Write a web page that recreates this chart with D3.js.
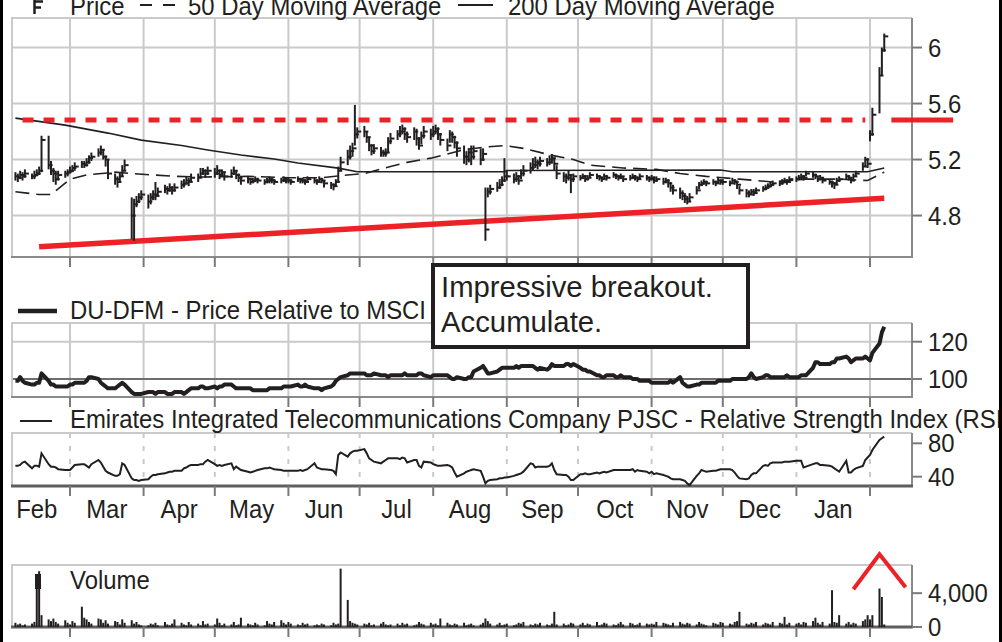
<!DOCTYPE html>
<html>
<head>
<meta charset="utf-8">
<script src="https://cdn.jsdelivr.net/npm/d3@7"></script>
<style>
body { margin: 0; background: #fff; overflow: hidden; }
svg { display: block; font-family: "Liberation Sans", Arial, sans-serif; }
</style>
</head>
<body>
<div id="chart"></div>
<script>
// ---- data (one value per trading day, Feb 6 2023 .. Feb 7 2024) ----
var first_day = '2023-02-06';
var last_day = '2024-02-07';

var price_close = [
	5.08,5.07,5.09,5.08,5.10, 5.08,5.09,5.10,5.12,5.34, 5.16,5.12,5.10,5.06,5.09, 5.10,5.11,            // Feb
	5.12,5.14,5.15, 5.17,5.16,5.18,5.21,5.22, 5.25,5.27,5.22,5.20,5.10, 5.06,5.04,5.08,5.12,5.16, 4.80,4.88,4.90,4.93,4.95, // Mar
	4.90,4.93,4.95,4.94,4.97, 4.99,4.98,5.00,4.98,5.00, 5.02,5.03,5.05,5.04,5.07, 5.07,5.10,5.12,5.10,5.12, // Apr
	5.10,5.12,5.09,5.11,5.08, 5.10,5.12,5.09,5.07,5.05, 5.06,5.04,5.05,5.06,5.05, 5.04,5.05,5.06,5.05,5.04, 5.05,5.06,5.05, // May
	5.05,5.04, 5.06,5.05,5.05,5.04,5.06, 5.05,5.04,5.06,5.05,5.03, 5.02,5.01,5.04,5.12,5.18, 5.22,5.26,5.28,5.38,5.40, // Jun
	5.40,5.36,5.30,5.26,5.28, 5.25,5.24,5.25,5.33,5.35, 5.38,5.40,5.42,5.38,5.36, 5.40,5.35,5.30,5.37,5.40, 5.38, // Jul
	5.40,5.42,5.38,5.34, 5.30,5.38,5.36,5.32,5.28, 5.22,5.20,5.25,5.22,5.26, 5.20,5.24,4.70,4.97,4.99, 5.00,5.02,5.05,5.08, // Aug
	5.08, 5.06,5.08,5.05,5.10,5.12, 5.14,5.16,5.18,5.17,5.19, 5.18,5.20,5.21,5.17,5.10, 5.08,5.07,5.09,5.06,5.08, // Sep
	5.07,5.08,5.06,5.07,5.09, 5.08,5.07,5.06,5.08,5.07, 5.09,5.08,5.07,5.08,5.06, 5.07,5.08,5.07,5.06,5.08, 5.07,5.06, // Oct
	5.07,5.05,5.06, 5.04,5.05,5.03,5.00,4.98, 4.96,4.94,4.92,4.90,4.93, 4.98,5.02,5.03,5.04,5.03, 5.04,5.03,5.05,5.04, // Nov
	5.04, 5.03,5.05,5.04,5.02,4.98, 4.96,4.95,4.97,4.96,4.98, 4.99,5.00,5.01,5.02,5.03, 5.03,5.04,5.05,5.04,5.06, // Dec
	5.06,5.07,5.08,5.07,5.10, 5.09,5.08,5.06,5.07,5.05, 5.04,5.03,5.02,5.05,5.06, 5.08,5.07,5.05,5.08,5.10, 5.15,5.20,5.17, // Jan
	5.38,5.52,5.80,5.98,6.08                                                                           // Feb
];
var price_high = [
	5.11,5.10,5.12,5.11,5.13, 5.10,5.12,5.13,5.15,5.37, 5.37,5.19,5.14,5.12,5.12, 5.12,5.13,
	5.15,5.16,5.18, 5.19,5.19,5.21,5.23,5.25, 5.28,5.30,5.27,5.23,5.20, 5.10,5.08,5.11,5.16,5.20, 4.93,4.92,4.94,4.96,4.98,
	4.95,4.96,4.98,5.04,5.00, 5.02,5.01,5.03,5.01,5.03, 5.05,5.06,5.08,5.07,5.10, 5.10,5.14,5.14,5.13,5.15,
	5.14,5.16,5.13,5.13,5.11, 5.13,5.15,5.12,5.10,5.08, 5.08,5.07,5.07,5.08,5.07, 5.06,5.07,5.08,5.07,5.06, 5.07,5.08,5.07,
	5.07,5.06, 5.08,5.07,5.07,5.06,5.08, 5.07,5.06,5.08,5.07,5.05, 5.04,5.03,5.06,5.15,5.22, 5.27,5.30,5.32,5.59,5.43,
	5.44,5.40,5.36,5.31,5.31, 5.29,5.27,5.28,5.36,5.39, 5.41,5.44,5.45,5.43,5.40, 5.43,5.42,5.36,5.40,5.44, 5.42,
	5.44,5.45,5.43,5.39, 5.35,5.41,5.40,5.37,5.33, 5.30,5.26,5.28,5.30,5.30, 5.28,5.28,5.00,5.00,5.02, 5.04,5.06,5.08,5.21,
	5.12, 5.10,5.11,5.09,5.13,5.16, 5.18,5.21,5.22,5.20,5.22, 5.21,5.23,5.24,5.21,5.16, 5.11,5.10,5.12,5.09,5.10,
	5.09,5.10,5.09,5.09,5.11, 5.10,5.09,5.08,5.10,5.09, 5.11,5.10,5.09,5.10,5.08, 5.09,5.10,5.09,5.08,5.10, 5.09,5.08,
	5.09,5.08,5.08, 5.07,5.07,5.06,5.04,5.02, 5.00,4.98,4.96,4.94,4.96, 5.01,5.04,5.05,5.06,5.05, 5.06,5.05,5.07,5.06,
	5.06, 5.05,5.07,5.06,5.05,5.01, 4.99,4.98,4.99,4.99,5.00, 5.01,5.02,5.03,5.04,5.05, 5.05,5.06,5.07,5.06,5.08,
	5.08,5.09,5.10,5.09,5.12, 5.11,5.10,5.08,5.09,5.07, 5.06,5.05,5.04,5.07,5.08, 5.10,5.09,5.07,5.10,5.12, 5.18,5.22,5.21,
	5.41,5.57,5.86,6.00,6.10
];
var price_low = [
	5.05,5.04,5.06,5.05,5.07, 5.06,5.06,5.08,5.09,5.11, 5.13,5.09,5.04,5.02,5.05, 5.07,5.08,
	5.10,5.11,5.12, 5.14,5.14,5.15,5.17,5.19, 5.22,5.23,5.20,5.15,5.06, 5.02,5.00,5.04,5.08,5.12, 4.63,4.62,4.86,4.89,4.91,
	4.85,4.88,4.91,4.91,4.94, 4.96,4.95,4.97,4.95,4.97, 4.99,5.00,5.02,5.01,5.04, 5.04,5.07,5.09,5.07,5.09,
	5.07,5.09,5.06,5.08,5.05, 5.07,5.09,5.06,5.04,5.02, 5.03,5.02,5.03,5.04,5.03, 5.02,5.03,5.03,5.03,5.02, 5.03,5.04,5.03,
	5.03,5.02, 5.04,5.03,5.03,5.02,5.04, 5.03,5.02,5.04,5.03,5.00, 4.99,4.98,5.01,5.04,5.12, 5.16,5.20,5.22,5.30,5.35,
	5.36,5.32,5.26,5.23,5.24, 5.22,5.22,5.22,5.25,5.31, 5.34,5.36,5.38,5.34,5.32, 5.34,5.30,5.27,5.31,5.35, 5.34,
	5.36,5.38,5.34,5.30, 5.26,5.32,5.32,5.28,5.22, 5.17,5.16,5.18,5.16,5.20, 5.16,5.19,4.62,4.93,4.95, 4.97,4.99,5.01,5.04,
	5.05, 5.03,5.04,5.02,5.06,5.08, 5.10,5.12,5.14,5.13,5.15, 5.15,5.16,5.17,5.12,5.06, 5.04,5.03,5.05,4.96,5.04,
	5.05,5.06,5.04,5.05,5.07, 5.06,5.05,5.04,5.06,5.05, 5.07,5.06,5.05,5.06,5.04, 5.05,5.06,5.05,5.04,5.06, 5.05,5.04,
	5.05,5.03,5.04, 5.02,5.03,5.00,4.97,4.95, 4.92,4.91,4.89,4.88,4.90, 4.95,4.99,5.01,5.02,5.01, 5.02,5.01,5.03,5.02,
	5.02, 5.01,5.03,5.02,4.99,4.95, 4.93,4.93,4.95,4.94,4.96, 4.97,4.98,4.99,5.00,5.01, 5.01,5.02,5.03,5.02,5.04,
	5.04,5.05,5.06,5.05,5.08, 5.07,5.06,5.04,5.05,5.03, 5.02,5.00,4.99,5.02,5.04, 5.06,5.05,5.03,5.06,5.08, 5.12,5.15,5.14,
	5.33,5.37,5.53,5.80,5.97
];

// DU-DFM price relative to MSCI
var relative = [
	99,99,101,99,98, 97,97,98,98,103, 99,97,97,96,96, 96,96,
	97,97,98, 98,98,99,101,101, 100,98,97,96,95, 95,96,97,98,97, 93,92,92,92,92,
	93,93,93,92,93, 93,92,92,92,93, 93,92,93,94,95, 95,96,96,95,95,
	96,95,96,96,97, 97,96,95,95,95, 95,95,94,94,94, 94,94,95,95,95, 95,96,96,
	96,96, 97,96,96,97,96, 95,95,95,94,95, 96,97,99,100,101, 102,103,103,103,103,
	103,102,102,102,103, 102,102,102,101,102, 102,102,102,103,102, 102,102,103,103,102, 101,
	102,102,102,102, 102,101,100,100,101, 100,100,101,101,104, 106,107,105,103,103, 104,105,106,106,
	106, 106,107,106,107,107, 107,107,106,105,106, 105,106,108,107,107, 107,108,108,107,108,
	106,105,105,104,104, 102,102,101,101,102, 102,101,101,102,101, 101,100,100,100,99, 99,99,
	98,98,98, 98,98,98,99,98, 101,98,97,96,96, 97,97,98,98,98, 98,98,99,99,
	99, 99,100,100,100,100, 100,101,103,101,100, 101,102,102,101,101, 101,101,101,102,101,
	101,101,102,102,102, 106,109,109,108,108, 108,109,109,111,111, 112,111,109,110,111, 111,112,111,
	110,114,119,125,128
];

// Relative Strength Index
var rsi = [
	53,53,54,57,58, 50,53,53,52,68, 55,52,52,51,49, 48,48,
	48,51,54, 55,55,53,51,55, 60,57,52,47,45, 41,41,43,56,54, 38,36,36,35,36,
	37,40,42,42,43, 44,45,46,46,47, 47,50,51,53,54, 54,55,55,58,60,
	55,53,54,53,54, 56,49,52,50,48, 46,45,46,47,48, 50,50,51,50,49, 48,47,47,
	47,47, 47,48,47,48,49, 56,51,50,49,49, 48,47,43,66,69, 64,68,70,71,71,
	73,68,62,60,58, 56,58,60,62,62, 62,61,63,62,57, 60,60,53,51,58, 57,
	55,54,53,53, 54,53,51,45,40, 44,46,47,48,49, 47,40,32,35,36, 37,38,38,39,
	39, 41,42,43,44,46, 56,55,51,52,52, 52,53,56,48,43, 42,42,40,36,36,
	43,43,44,43,43, 45,44,45,46,45, 48,48,48,48,48, 48,49,46,48,47, 46,44,
	46,43,44, 42,41,40,38,37, 37,36,35,32,30, 41,44,48,47,46, 47,47,48,49,
	49, 49,48,45,41,38, 37,38,42,44,44, 53,54,53,56,57, 57,57,58,58,58,
	59,59,59,51,52, 55,56,56,54,54, 53,52,50,48,46, 59,45,45,48,50, 53,60,63,
	66,72,84,86,88
];

var volume = [
	500,300,400,200,300, 400,600,6200,6600,1400, 900,700,1000,600,400, 800,500,
	300,700,500, 2400,1100,900,600,400, 1000,900,500,800,400, 700,600,300,900,500, 800,400,600,300,200,
	200,400,300,500,200, 600,300,200,400,900, 500,300,200,600,300, 400,200,700,300,400,
	300,1000,500,200,400, 300,600,200,300,1100, 400,300,200,500,300, 200,700,400,300,600, 800,500,300,
	600,400, 300,200,500,300,400, 200,300,200,400,300, 200,500,300,400,6900, 3200,700,500,400,300,
	400,300,500,200,300, 400,600,300,200,300, 400,200,500,300,400, 200,300,600,400,300, 500,
	300,400,200,1000, 500,300,200,400,300, 500,200,300,400,200, 300,500,1000,700,400, 300,500,200,300,
	400, 200,300,500,400,600, 300,200,400,300,500, 300,200,400,1800,300, 400,200,300,500,400,
	300,500,200,400,300, 600,200,300,500,400, 300,200,400,600,300, 500,400,200,300,500, 400,300,
	400,300,600, 500,400,300,200,500, 600,400,300,500,400, 300,600,400,300,200, 500,400,300,600,
	500, 400,300,600,700,1800, 400,300,500,400,600, 300,500,400,300,600, 500,400,1200,300,500,
	400,500,300,600,500, 700,1100,500,300,600, 400,4350,600,500,1400, 400,600,300,500,400, 700,900,1400,
	900,1400,4550,3550,300
];

// moving averages (read at turning points)
var ma50_dates = ['2023-02-06','2023-02-16','2023-02-21','2023-02-24','2023-03-01','2023-03-08','2023-03-20','2023-03-27',
	'2023-04-05','2023-04-14','2023-04-26','2023-05-15','2023-06-01','2023-06-15','2023-06-23','2023-07-03','2023-07-14',
	'2023-07-21','2023-07-31','2023-08-07','2023-08-14','2023-08-23','2023-08-31','2023-09-08','2023-09-20','2023-09-29',
	'2023-10-06','2023-10-20','2023-11-03','2023-11-13','2023-11-24','2023-12-08','2023-12-22','2024-01-05','2024-01-19',
	'2024-01-31','2024-02-07'];
var ma50_values = [4.97,4.95,4.95,4.99,5.06,5.09,5.11,5.10, 5.09,5.08,5.075,5.08,5.07,5.07,5.085,5.10,5.15,
	5.18,5.21,5.24,5.27,5.29,5.30,5.28,5.23,5.20, 5.16,5.14,5.13,5.10,5.08,5.06,5.04,5.06,5.06, 5.05,5.11];

var ma200_dates = ['2023-02-06','2023-02-27','2023-03-17','2023-03-31','2023-04-17','2023-04-28','2023-05-12','2023-05-26',
	'2023-06-05','2023-06-22','2023-06-30','2023-08-31','2023-09-01','2023-11-30','2023-12-05','2024-01-31','2024-02-07'];
var ma200_values = [5.496,5.446,5.389,5.339,5.30,5.268,5.232,5.204, 5.175,5.139,5.113,5.113,5.122,5.125,5.113,5.113,5.14];

// drawn annotations
var support_dates = ['2023-02-16','2024-02-07'];
var support_values = [4.577, 4.923];
var resistance_value = 5.482;
var resistance_dashed = ['2023-02-09','2024-01-30'];
var resistance_solid = ['2024-02-10','2024-03-07'];
var chevron_dates = ['2024-01-25','2024-02-05','2024-02-16'];
var chevron_values = [4470, 8590, 4700];

var month_labels = ['Feb','Mar','Apr','May','Jun','Jul','Aug','Sep','Oct','Nov','Dec','Jan'];
var price_ticks = [4.8, 5.2, 5.6, 6];
var relative_ticks = [100, 120];
var rsi_ticks = [40, 80];
var volume_ticks = [0, 4000];

// ---- setup ----
var parse = d3.timeParse('%Y-%m-%d');
var days = d3.timeDay.range(parse(first_day), d3.timeDay.offset(parse(last_day), 1))
	.filter(function(d){ return d.getDay() !== 0 && d.getDay() !== 6; });

var n = Math.min(days.length, price_close.length, price_high.length, price_low.length,
	relative.length, rsi.length, volume.length);
var data = [];
for (var i = 0; i < n; i++) {
	data.push({ date: days[i], close: price_close[i], high: price_high[i], low: price_low[i],
		rel: relative[i], rsi: rsi[i], vol: volume[i] });
}

var width = 1002, height = 642;
var left = 12, right = 912;
var ink = '#231f20', grid = '#cacaca', edge = '#8a8a8a', red = '#ec2227';

var svg = d3.select('#chart').append('svg')
	.attr('width', width)
	.attr('height', height);

var x_scale = d3.scaleTime()
	.domain([parse('2023-03-01'), parse('2024-02-01')])
	.range([70, 870]);

var months = d3.timeMonth.range(parse('2023-03-01'), parse('2024-02-02'));

var y_price = d3.scaleLinear().domain([4.504, 6.211]).range([257, 18]);
var y_rel = d3.scaleLinear().domain([90.35, 130.03]).range([397, 323]);
var y_rsi = d3.scaleLinear().domain([28.86, 92.34]).range([486, 433]);
var y_vol = d3.scaleLinear().domain([0, 7330]).range([627, 565]);

function label(x, y, str, size, anchor) {
	return svg.append('text')
		.attr('transform', 'translate(' + x + ',' + y + ') scale(0.92,1)')
		.attr('font-size', size || 26)
		.attr('text-anchor', anchor || 'start')
		.attr('fill', ink)
		.text(str);
}

// panel: frame, month grid, bottom ticks, right axis
function panel(y_scale, ticks, fmt, opts) {
	var top = y_scale.range()[1], bottom = y_scale.range()[0];
	var g = svg.append('g');
	if (opts.vgrid) {
		g.selectAll('.vg').data(months).enter().append('line')
			.attr('x1', function(d){ return x_scale(d); })
			.attr('x2', function(d){ return x_scale(d); })
			.attr('y1', top).attr('y2', bottom)
			.attr('stroke', grid).attr('stroke-width', 2)
			.attr('stroke-dasharray', opts.vgrid === 'dash' ? '5,8' : null);
	}
	if (opts.hgrid) {
		g.selectAll('.hg').data(ticks).enter().append('line')
			.attr('x1', left).attr('x2', right)
			.attr('y1', function(d){ return y_scale(d); })
			.attr('y2', function(d){ return y_scale(d); })
			.attr('stroke', function(d){ return d === opts.base ? '#6e6e6e' : grid; })
			.attr('stroke-width', 2);
	}
	g.append('path')
		.attr('d', 'M' + right + ',' + top + 'H' + left + 'V' + bottom)
		.attr('fill', 'none').attr('stroke', grid).attr('stroke-width', 2);
	g.append('line').attr('x1', right).attr('x2', right).attr('y1', top).attr('y2', bottom + 1)
		.attr('stroke', edge).attr('stroke-width', 2);
	g.append('line').attr('x1', left - 1).attr('x2', right + 1).attr('y1', bottom).attr('y2', bottom)
		.attr('stroke', opts.heavy ? '#5e5e5e' : edge).attr('stroke-width', opts.heavy ? 3 : 2);

	// month ticks under the panel
	g.selectAll('.mt').data(months).enter().append('line')
		.attr('x1', function(d){ return x_scale(d); })
		.attr('x2', function(d){ return x_scale(d); })
		.attr('y1', bottom).attr('y2', bottom + 10)
		.attr('stroke', '#7a7a7a').attr('stroke-width', 2);

	// right axis ticks and labels
	g.selectAll('.rt').data(ticks).enter().append('line')
		.attr('x1', right).attr('x2', right + 10)
		.attr('y1', function(d){ return y_scale(d); })
		.attr('y2', function(d){ return y_scale(d); })
		.attr('stroke', '#7a7a7a').attr('stroke-width', 2);
	ticks.forEach(function(t){
		label(928, y_scale(t), fmt(t)).attr('dy', '0.35em');
	});
	return g;
}

// ---- price panel ----
panel(y_price, price_ticks, d3.format('~g'), { vgrid: 'solid', hgrid: true });

var line_price = function(dates, values) {
	return d3.line()
		.x(function(d){ return x_scale(parse(d)); })
		.y(function(d, i){ return y_price(values[i]); })(dates);
};

svg.append('path')
	.attr('d', line_price(ma200_dates, ma200_values))
	.attr('fill', 'none').attr('stroke', ink).attr('stroke-width', 1.6);
svg.append('path')
	.attr('d', line_price(ma50_dates, ma50_values))
	.attr('fill', 'none').attr('stroke', ink).attr('stroke-width', 1.6)
	.attr('stroke-dasharray', '14,7');

// support line
svg.append('path')
	.attr('d', line_price(support_dates, support_values))
	.attr('stroke', red).attr('stroke-width', 5.5);

// resistance line
svg.append('path')
	.attr('d', line_price(resistance_dashed, [resistance_value, resistance_value]))
	.attr('stroke', red).attr('stroke-width', 5).attr('stroke-dasharray', '11,10');
svg.append('path')
	.attr('d', line_price(resistance_solid, [resistance_value, resistance_value]))
	.attr('stroke', red).attr('stroke-width', 5);

// price bars (high-low-close)
var bars = svg.append('g').attr('stroke', ink).attr('stroke-width', 2);
bars.selectAll('.hl').data(data).enter().append('line')
	.attr('x1', function(d){ return x_scale(d.date); })
	.attr('x2', function(d){ return x_scale(d.date); })
	.attr('y1', function(d){ return y_price(d.high); })
	.attr('y2', function(d){ return y_price(d.low); });
bars.selectAll('.cl').data(data).enter().append('line')
	.attr('x1', function(d){ return x_scale(d.date); })
	.attr('x2', function(d){ return x_scale(d.date) + 4; })
	.attr('y1', function(d){ return y_price(d.close); })
	.attr('y2', function(d){ return y_price(d.close); });

// ---- relative panel ----
panel(y_rel, relative_ticks, d3.format('d'), { vgrid: 'solid', hgrid: true, base: 100 });
svg.append('path')
	.datum(data)
	.attr('d', d3.line()
		.x(function(d){ return x_scale(d.date); })
		.y(function(d){ return y_rel(d.rel); }))
	.attr('fill', 'none').attr('stroke', ink).attr('stroke-width', 4)
	.attr('stroke-linejoin', 'round');

// ---- RSI panel ----
panel(y_rsi, rsi_ticks, d3.format('d'), { vgrid: 'dash', heavy: true });
svg.append('path')
	.datum(data)
	.attr('d', d3.line()
		.x(function(d){ return x_scale(d.date); })
		.y(function(d){ return y_rsi(d.rsi); }))
	.attr('fill', 'none').attr('stroke', ink).attr('stroke-width', 2);

// ---- volume panel ----
panel(y_vol, volume_ticks, d3.format(','), { heavy: true });
svg.append('g').selectAll('rect').data(data).enter().append('rect')
	.attr('x', function(d){ return x_scale(d.date) - 1; })
	.attr('width', 2)
	.attr('y', function(d){ return y_vol(d.vol); })
	.attr('height', function(d){ return y_vol(0) - y_vol(d.vol); })
	.attr('fill', ink);

svg.append('path')
	.attr('d', d3.line()
		.x(function(d){ return x_scale(parse(d)); })
		.y(function(d, i){ return y_vol(chevron_values[i]); })(chevron_dates))
	.attr('fill', 'none').attr('stroke', red).attr('stroke-width', 4);

// ---- month labels ----
month_labels.forEach(function(m, i){
	var a = d3.timeMonth.offset(parse('2023-02-01'), i);
	var b = d3.timeMonth.offset(a, 1);
	label((x_scale(a) + x_scale(b)) / 2, 518, m, 26, 'middle');
});

// ---- legends ----
svg.append('path')
	.attr('d', 'M34.5,0V14M34.5,1.5H43M34.5,7.5H41')
	.attr('fill', 'none').attr('stroke', ink).attr('stroke-width', 2.5);
label(70, 15, 'Price');
svg.append('line').attr('x1', 140).attr('x2', 175).attr('y1', 5).attr('y2', 5)
	.attr('stroke', ink).attr('stroke-width', 2).attr('stroke-dasharray', '12,11');
label(188, 15, '50 Day Moving Average');
svg.append('line').attr('x1', 458).attr('x2', 493).attr('y1', 5).attr('y2', 5)
	.attr('stroke', ink).attr('stroke-width', 2);
label(508, 15, '200 Day Moving Average');

svg.append('line').attr('x1', 18).attr('x2', 57).attr('y1', 311).attr('y2', 311)
	.attr('stroke', ink).attr('stroke-width', 4.5);
label(70, 319, 'DU-DFM - Price Relative to MSCI');

svg.append('line').attr('x1', 20).attr('x2', 52).attr('y1', 421).attr('y2', 421)
	.attr('stroke', ink).attr('stroke-width', 2);
label(70, 428, 'Emirates Integrated Telecommunications Company PJSC - Relative Strength Index (RSI)');

svg.append('rect').attr('x', 35).attr('y', 574).attr('width', 6).attr('height', 15).attr('fill', ink);
label(70, 589, 'Volume');

// ---- note box ----
svg.append('rect')
	.attr('x', 433).attr('y', 265).attr('width', 315).attr('height', 82)
	.attr('fill', '#fff').attr('stroke', ink).attr('stroke-width', 4);
svg.append('text').attr('x', 441).attr('y', 297).attr('font-size', 29.3).attr('fill', ink)
	.text('Impressive breakout.');
svg.append('text').attr('x', 441).attr('y', 332).attr('font-size', 29.3).attr('fill', ink)
	.text('Accumulate.');

// ---- outer border ----
svg.append('line').attr('x1', 1.5).attr('x2', 1.5).attr('y1', 0).attr('y2', height)
	.attr('stroke', '#000').attr('stroke-width', 3);
svg.append('line').attr('x1', 1000.5).attr('x2', 1000.5).attr('y1', 0).attr('y2', height)
	.attr('stroke', '#000').attr('stroke-width', 3);
</script>
</body>
</html>
